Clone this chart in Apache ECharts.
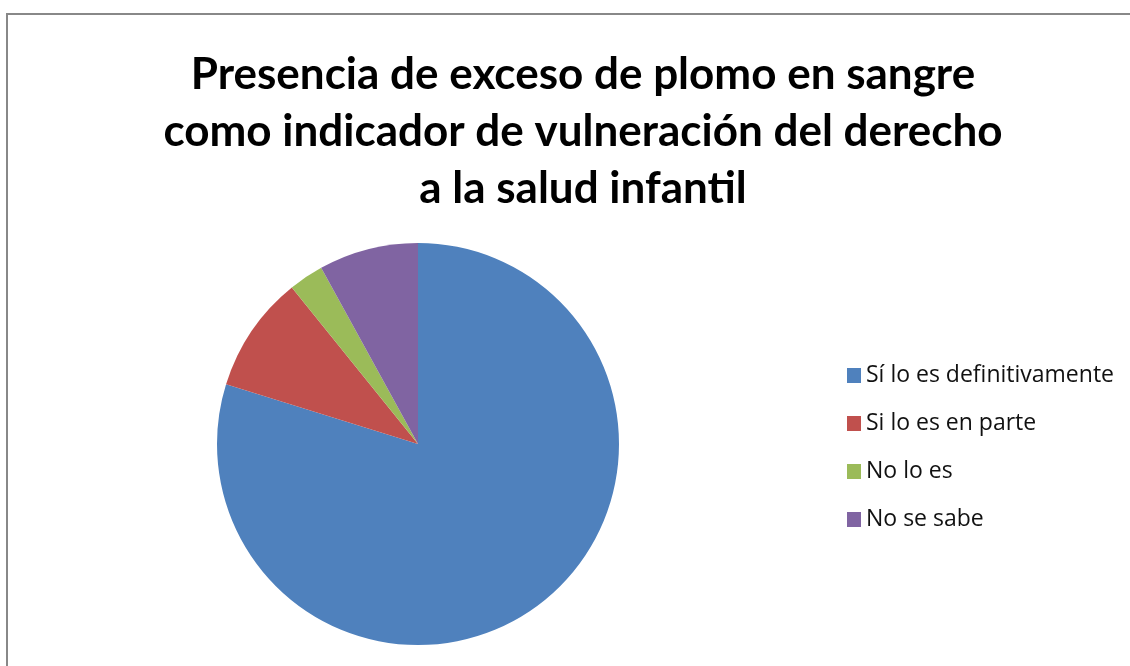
<!DOCTYPE html>
<html><head><meta charset="utf-8">
<script src="https://cdn.jsdelivr.net/npm/echarts@6/dist/echarts.min.js"></script>
<style>
html,body{margin:0;padding:0;background:#fff;overflow:hidden}
#frame{position:absolute;left:6px;top:13px;width:1140px;height:670px;border:2px solid #888;box-sizing:border-box}
#c{position:absolute;left:0;top:0;width:1130px;height:666px}
</style></head>
<body><div id="frame"></div><div id="c"></div>
<script>
const titleText = 'Presencia de exceso de plomo en sangre\ncomo indicador de vulneración del derecho\na la salud infantil';
const categories = ['Sí lo es definitivamente', 'Si lo es en parte', 'No lo es', 'No se sabe'];
const values = [79.8, 9.4, 2.8, 8.0];
const colors = ['#4F81BD', '#C0504D', '#9BBB59', '#8064A2'];

const chart = echarts.init(document.getElementById('c'));
chart.setOption({
  animation: false,
  title: {
    text: titleText,
    left: 578, top: 41, textAlign: 'center',
    textStyle: {fontFamily: 'Lato', fontWeight: 'bold', fontSize: 44, lineHeight: 57, color: '#000'}
  },
  legend: {
    orient: 'vertical', left: 842, top: 359, itemGap: 25,
    itemWidth: 14, itemHeight: 15, icon: 'rect',
    textStyle: {fontFamily: 'Open Sans', fontSize: 23, lineHeight: 23, color: '#111'},
    data: categories
  },
  series: [{
    type: 'pie', center: [418, 444], radius: 201, startAngle: 90, clockwise: true,
    label: {show: false}, labelLine: {show: false},
    itemStyle: {borderWidth: 0},
    emphasis: {disabled: true},
    data: categories.map((n, i) => ({name: n, value: values[i], itemStyle: {color: colors[i]}}))
  }]
});
</script></body></html>
